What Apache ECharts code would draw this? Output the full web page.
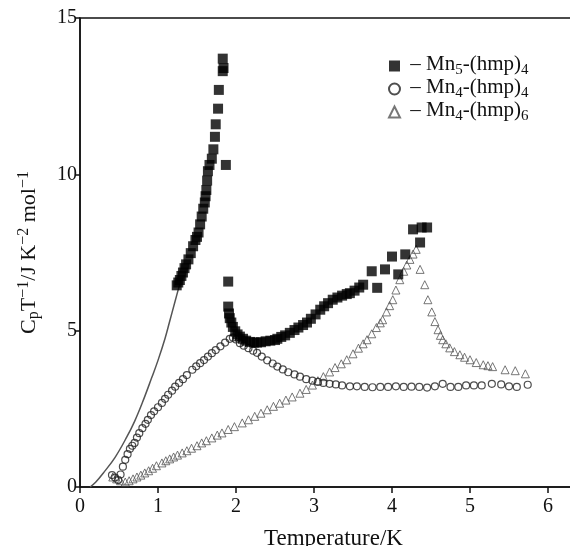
<!DOCTYPE html>
<html><head><meta charset="utf-8">
<script src="https://cdn.jsdelivr.net/npm/echarts@6/dist/echarts.min.js"></script>
<style>html,body{margin:0;padding:0;background:#fff;overflow:hidden}#c{width:570px;height:546px}</style>
</head><body><div id="c"></div>
<script>
const xTicks = [0, 1, 2, 3, 4, 5, 6];
const yTicks = [0, 5, 10, 15];

const mn5X = [1.24,1.26,1.28,1.30,1.32,1.34,1.36,1.39,1.42,1.45,1.48,1.50,1.52,1.54,1.56,1.58,1.60,1.61,1.62,1.63,1.64,1.66,1.69,1.71,1.73,1.74,1.77,1.78,1.83,1.84,1.83,1.87,
  1.90,1.90,1.91,1.92,1.94,1.96,1.99,2.02,2.05,2.09,2.13,2.18,2.23,2.27,2.32,2.38,2.44,2.50,2.53,2.58,2.63,2.69,2.75,2.80,2.86,2.91,2.96,3.02,3.08,3.13,3.18,3.24,3.30,3.36,3.42,3.46,3.52,3.58,3.63,3.74,3.81,3.91,4.00,4.08,4.17,4.27,4.36,4.38,4.45];
const mn5Y = [6.45,6.54,6.62,6.75,6.86,7.00,7.12,7.28,7.48,7.70,7.90,8.00,8.14,8.40,8.65,8.90,9.10,9.30,9.50,9.80,10.1,10.3,10.5,10.8,11.2,11.6,12.1,12.7,13.3,13.4,13.7,10.3,
  6.57,5.77,5.55,5.40,5.26,5.12,4.98,4.88,4.81,4.74,4.68,4.64,4.62,4.62,4.63,4.66,4.68,4.70,4.74,4.80,4.85,4.93,5.02,5.10,5.18,5.26,5.38,5.52,5.67,5.78,5.88,5.99,6.06,6.12,6.17,6.20,6.28,6.38,6.47,6.90,6.37,6.96,7.37,6.80,7.44,8.24,7.82,8.30,8.30];

const mn44X = [0.41,0.45,0.49,0.52,0.55,0.58,0.61,0.64,0.67,0.70,0.73,0.76,0.80,0.84,0.87,0.91,0.95,1.00,1.05,1.09,1.13,1.18,1.22,1.27,1.32,1.37,1.44,1.49,1.54,1.59,1.64,1.69,1.74,1.80,1.86,1.92,1.96,2.00,2.05,2.10,2.16,2.22,2.27,2.33,2.40,2.47,2.53,2.60,2.67,2.75,2.82,2.90,2.98,3.05,3.12,3.20,3.28,3.36,3.46,3.55,3.65,3.75,3.85,3.95,4.05,4.15,4.25,4.35,4.45,4.55,4.65,4.75,4.85,4.95,5.05,5.15,5.28,5.40,5.50,5.60,5.74];
const mn44Y = [0.38,0.30,0.22,0.40,0.65,0.87,1.05,1.22,1.32,1.41,1.58,1.72,1.88,2.02,2.15,2.30,2.42,2.55,2.69,2.82,2.95,3.08,3.21,3.33,3.45,3.58,3.75,3.86,3.96,4.06,4.17,4.28,4.38,4.50,4.62,4.74,4.78,4.72,4.60,4.52,4.44,4.36,4.29,4.17,4.05,3.95,3.85,3.76,3.67,3.60,3.53,3.45,3.40,3.36,3.33,3.30,3.28,3.25,3.22,3.22,3.20,3.19,3.20,3.20,3.22,3.20,3.21,3.20,3.18,3.22,3.30,3.20,3.20,3.25,3.25,3.25,3.30,3.28,3.22,3.20,3.27];

const mn46X = [0.42,0.47,0.52,0.58,0.63,0.68,0.73,0.78,0.83,0.88,0.93,0.98,1.05,1.10,1.15,1.20,1.25,1.31,1.37,1.43,1.50,1.56,1.62,1.69,1.76,1.82,1.90,1.98,2.08,2.16,2.24,2.32,2.40,2.48,2.56,2.64,2.72,2.82,2.90,2.98,3.05,3.12,3.20,3.27,3.35,3.42,3.50,3.57,3.63,3.68,3.74,3.80,3.85,3.88,3.93,3.97,4.01,4.05,4.10,4.15,4.19,4.23,4.27,4.31,4.36,4.42,4.46,4.51,4.55,4.59,4.62,4.65,4.69,4.74,4.80,4.87,4.93,5.00,5.08,5.17,5.23,5.29,5.45,5.58,5.71];
const mn46Y = [0.32,0.26,0.20,0.16,0.20,0.26,0.32,0.38,0.45,0.52,0.60,0.68,0.77,0.84,0.90,0.96,1.02,1.09,1.16,1.24,1.32,1.41,1.48,1.57,1.66,1.73,1.84,1.93,2.05,2.15,2.26,2.36,2.47,2.58,2.68,2.78,2.88,3.00,3.12,3.26,3.40,3.53,3.68,3.82,3.94,4.07,4.26,4.44,4.58,4.71,4.90,5.10,5.25,5.35,5.60,5.80,5.99,6.30,6.63,6.90,7.10,7.28,7.45,7.60,6.96,6.47,5.99,5.60,5.29,5.03,4.85,4.71,4.58,4.45,4.33,4.23,4.15,4.07,3.98,3.91,3.88,3.85,3.75,3.72,3.62];

const fitX = [0.13,0.20,0.30,0.45,0.60,0.70,0.80,0.92,1.00,1.09,1.15,1.22,1.28];
const fitY = [0.00,0.15,0.45,0.95,1.60,2.10,2.70,3.50,4.05,4.75,5.30,5.95,6.50];

const zip = (a, b) => a.map((v, i) => [v, b[i]]);
const FONT = '"Liberation Serif", "Times New Roman", serif';

const chart = echarts.init(document.getElementById('c'));
chart.setOption({
  animation: false,
  backgroundColor: '#fff',
  grid: { left: 80, top: 18, width: 507, bottom: 59, outerBoundsMode: 'none', containLabel: false,
    show: true, borderColor: '#111', borderWidth: 1.5, backgroundColor: 'transparent' },
  legend: {
    orient: 'vertical', left: 383, top: 49, itemGap: -1, itemWidth: 11, itemHeight: 11,
    data: ['Mn5-(hmp)4', 'Mn4-(hmp)4', 'Mn4-(hmp)6'],
    formatter: function (n) {
      const m = n.match(/^Mn(\d)-\(hmp\)(\d)$/);
      return '{m| – Mn}{s|' + m[1] + '}{m|-(hmp)}{s|' + m[2] + '}';
    },
    textStyle: { fontFamily: FONT, fontSize: 21, color: '#111', lineHeight: 24,
      rich: {
        m: { fontFamily: FONT, fontSize: 21, color: '#111', verticalAlign: 'top', lineHeight: 24 },
        s: { fontFamily: FONT, fontSize: 15, color: '#111', verticalAlign: 'bottom', lineHeight: 10 }
      } }
  },
  xAxis: {
    type: 'value', min: 0, max: 6.5, interval: 1,
    name: 'Temperature/K', nameLocation: 'middle', nameGap: 40,
    nameTextStyle: { fontFamily: FONT, fontSize: 23, color: '#111' },
    axisLine: { lineStyle: { color: '#111', width: 1.5 } },
    axisTick: { show: true, inside: false, length: 6, lineStyle: { color: '#111', width: 1.5 } },
    axisLabel: { fontFamily: FONT, fontSize: 20, color: '#111', margin: 10, showMaxLabel: false,
      formatter: v => (xTicks.indexOf(v) >= 0 ? String(v) : '') },
    splitLine: { show: false }
  },
  yAxis: {
    type: 'value', min: 0, max: 15, interval: 5,
    name: 'C{sub|p}T{sup|−1}/J K{sup|−2} mol{sup|−1}', nameLocation: 'middle', nameGap: 38, nameRotate: 90,
    nameTextStyle: { fontFamily: FONT, fontSize: 22, color: '#111', lineHeight: 26,
      rich: {
        sub: { fontFamily: FONT, fontSize: 16, color: '#111', verticalAlign: 'bottom', lineHeight: 13 },
        sup: { fontFamily: FONT, fontSize: 16, color: '#111', verticalAlign: 'top', lineHeight: 13 }
      } },
    axisLine: { lineStyle: { color: '#111', width: 1.5 } },
    axisTick: { show: true, inside: false, length: 5, lineStyle: { color: '#111', width: 1.5 } },
    axisLabel: { fontFamily: FONT, fontSize: 20, color: '#111', margin: 3,
      formatter: v => (yTicks.indexOf(v) >= 0 ? String(v) : '') },
    splitLine: { show: false }
  },
  series: [
    { name: 'fit', type: 'line', data: zip(fitX, fitY), showSymbol: false, smooth: 0.4,
      lineStyle: { color: '#555', width: 1.5 }, z: 1 },
    { name: 'Mn4-(hmp)6', type: 'scatter', symbol: 'triangle', symbolSize: 8, data: zip(mn46X, mn46Y),
      itemStyle: { color: 'rgba(255,255,255,0)', borderColor: '#555', borderWidth: 1 }, z: 2 },
    { name: 'Mn4-(hmp)4', type: 'scatter', symbol: 'circle', symbolSize: 7, data: zip(mn44X, mn44Y),
      itemStyle: { color: 'rgba(255,255,255,0)', borderColor: '#222', borderWidth: 1.2 }, z: 3 },
    { name: 'Mn5-(hmp)4', type: 'scatter', symbol: 'rect', symbolSize: 10, data: zip(mn5X, mn5Y),
      itemStyle: { color: '#000' }, z: 4 }
  ]
});
</script></body></html>
